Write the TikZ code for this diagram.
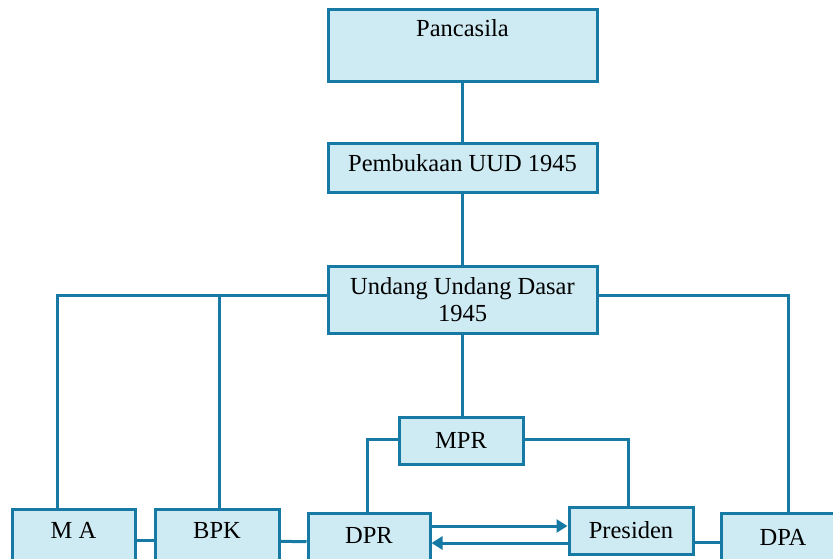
\documentclass[tikz,border=0pt]{standalone}
\usepackage{fontspec}
\setmainfont{Liberation Serif}
\usepackage{xcolor}
\usepackage{tikz}
\usetikzlibrary{arrows.meta,positioning,calc}

\definecolor{boxfill}{RGB}{206,234,242}
\definecolor{boxline}{RGB}{22,122,164}

\tikzset{
  box/.style={draw=boxline, fill=boxfill, line width=3pt, inner sep=0pt,
    font=\fontsize{24.5}{27}\selectfont, text height=16pt, text depth=0pt},
  link/.style={draw=boxline, line width=3pt},
  tip/.style={link, -{Triangle[length=11pt,width=13pt]}}
}

\begin{document}
\begin{tikzpicture}[x=1pt, y=-1pt]

\clip (0,0) rectangle (833,558);

% Top column
\node[box, minimum width=269pt, minimum height=72pt, text depth=34pt] (pancasila) at (462.5,45) {Pancasila};
\node[box, minimum width=269pt, minimum height=49pt, text depth=9pt] (pembukaan) at (462.5,167.5) {Pembukaan UUD 1945};
\node[box, minimum width=269pt, minimum height=67pt, align=center, text height=, text depth=] (uud) at (462.5,299.5) {Undang Undang Dasar\\1945};

% MPR
\node[box, minimum width=124pt, minimum height=47pt] (mpr) at (461,440.5) {MPR};

% Bottom row (cut off by the page edge)
\node[box, minimum width=123pt, minimum height=63pt, text depth=21pt] (ma) at (73.5,540.5) {M A};
\node[box, minimum width=124pt, minimum height=63pt, text depth=21pt] (bpk) at (217,540.5) {BPK};
\node[box, minimum width=122pt, minimum height=59pt, text depth=15pt] (dpr) at (369,542.5) {DPR};
\node[box, minimum width=124pt, minimum height=47pt] (presiden) at (631,530.5) {Presiden};
\node[box, minimum width=124pt, minimum height=59pt, text depth=11pt] (dpa) at (783,542.5) {DPA};

% Vertical chain
\draw[link] (pancasila) -- (pembukaan);
\draw[link] (pembukaan) -- (uud);
\draw[link] (uud.south) -- (uud.south |- mpr.north);

% Branches from UUD
\coordinate (uudl) at ([yshift=4.5pt]uud.west);
\coordinate (uudr) at ([yshift=4.5pt]uud.east);
\draw[link] (uudl) -| ([xshift=-16.5pt]ma.north);
\draw[link] ([xshift=2pt]bpk.north) -- ([xshift=2pt]bpk.north |- uudl);
\draw[link] (uudr) -| ([xshift=5pt]dpa.north);

% Branches from MPR
\draw[link] ([yshift=1.5pt]mpr.west) -| ([xshift=-2pt]dpr.north);
\draw[link] ([yshift=1.5pt]mpr.east) -| ([xshift=-3pt]presiden.north);

% Links along the bottom
\draw[link] (ma) -- (bpk);
\draw[link] (bpk) -- (dpr);
\draw[link] (dpa.west) -- (dpa.west -| presiden.east);

% DPR <-> Presiden
\draw[tip] ([yshift=16.5pt]dpr.east) -- ([yshift=16.5pt]dpr.east -| presiden.west);
\draw[tip] ([yshift=-12.5pt]presiden.west) -- ([yshift=-12.5pt]presiden.west -| dpr.east);

\end{tikzpicture}
\end{document}
